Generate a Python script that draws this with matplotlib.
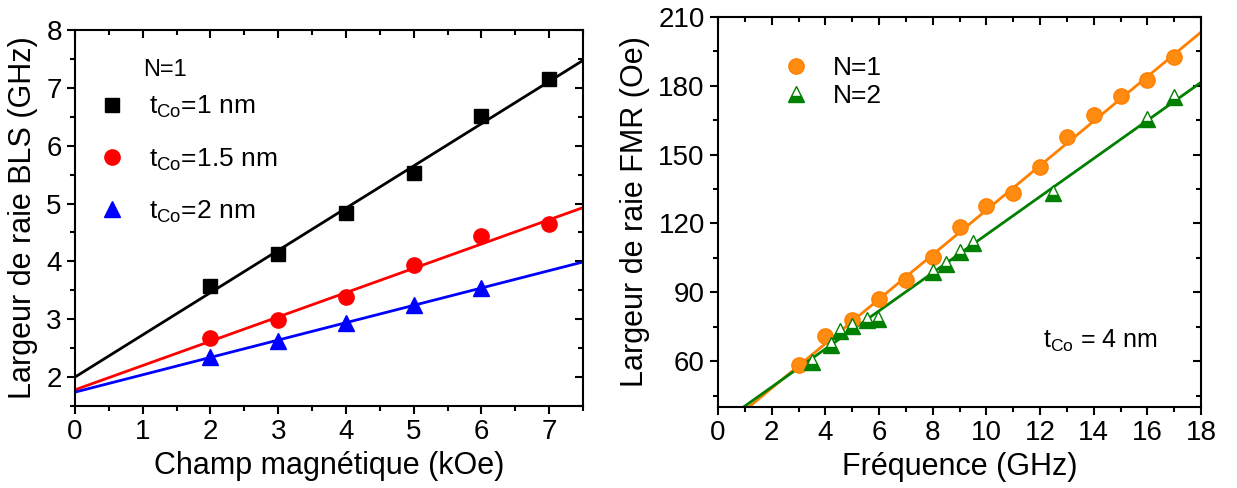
import matplotlib.pyplot as plt
import numpy as np

plt.rcParams['font.family'] = ['Liberation Sans', 'DejaVu Sans']
plt.rcParams['mathtext.fontset'] = 'custom'
plt.rcParams['mathtext.rm'] = 'Liberation Sans'

# left panel: BLS linewidth vs field, N=1
field = [2, 3, 4, 5, 6, 7]
bls_1nm = [3.58, 4.13, 4.84, 5.52, 6.52, 7.15]
bls_15nm = [2.67, 2.98, 3.39, 3.93, 4.44, 4.64]
field_2nm = [2, 3, 4, 5, 6]
bls_2nm = [2.35, 2.63, 2.93, 3.24, 3.54]
# linear fits (intercept, slope)
fit_1nm = (2.0, 0.73)
fit_15nm = (1.78, 0.42)
fit_2nm = (1.74, 0.30)

# right panel: FMR linewidth vs frequency, tCo = 4 nm
freq_n1 = [3, 4, 5, 6, 7, 8, 9, 10, 11, 12, 13, 14, 15, 16, 17]
fmr_n1 = [58.5, 70.8, 78, 87, 95.5, 105.5, 118.5, 127.5, 133.5, 144.5, 157.5, 167.5, 175.5, 182.5, 192.5]
freq_n2 = [3.5, 4.2, 4.55, 5.0, 5.55, 5.95, 8.0, 8.5, 9.0, 9.5, 12.5, 16, 17]
fmr_n2 = [59.5, 67, 73, 75.5, 78, 78.5, 99, 102.5, 107.5, 111.5, 133.5, 165.5, 175]
fit_n1 = (28.8, 9.7)
fit_n2 = (32.1, 8.3)

fig = plt.figure(figsize=(12.37, 4.88), dpi=100)
ax1 = fig.add_axes([75 / 1237, 82 / 488, 508 / 1237, 376 / 488])
ax2 = fig.add_axes([718 / 1237, 81 / 488, 483 / 1237, 390 / 488])


def style(ax):
    for s in ax.spines.values():
        s.set_linewidth(1.5)
    ax.tick_params(which='both', labelsize=20, width=1.5, direction='out',
                   top=True, right=True)
    ax.tick_params(which='major', length=6)
    ax.tick_params(which='minor', length=3.5)


style(ax1)
style(ax2)

xs = np.array([0, 7.5])
ax1.plot(xs, fit_1nm[0] + fit_1nm[1] * xs, color='black', lw=2)
ax1.plot(xs, fit_15nm[0] + fit_15nm[1] * xs, color='red', lw=2)
ax1.plot(xs, fit_2nm[0] + fit_2nm[1] * xs, color='blue', lw=2)
h1, = ax1.plot(field, bls_1nm, 's', color='black', ms=10, label=r't$_\mathregular{Co}$=1 nm')
h2, = ax1.plot(field, bls_15nm, 'o', color='red', ms=11, label=r't$_\mathregular{Co}$=1.5 nm')
h3, = ax1.plot(field_2nm, bls_2nm, '^', color='blue', ms=11, label=r't$_\mathregular{Co}$=2 nm')
ax1.set_xlim(0, 7.5)
ax1.set_ylim(1.5, 8)
ax1.set_xticks(range(0, 8))
ax1.set_xticks(np.arange(0.5, 7.6, 1), minor=True)
ax1.set_yticks(range(2, 9))
ax1.set_yticks(np.arange(1.5, 8, 1), minor=True)
ax1.set_xlabel('Champ magnétique (kOe)', fontsize=22, labelpad=4)
ax1.set_ylabel('Largeur de raie BLS (GHz)', fontsize=22, labelpad=6)
ax1.text(0.177, 0.894, 'N=1', transform=ax1.transAxes, fontsize=17,
         ha='center', va='center')
ax1.legend(handles=[h1, h2, h3], loc='upper left', frameon=False,
           fontsize=19, labelspacing=0.98, handletextpad=0.4,
           bbox_to_anchor=(-0.025, 0.893))

xf = np.array([0, 18])
ax2.plot(xf, fit_n1[0] + fit_n1[1] * xf, color='#ff7f00', lw=2)
ax2.plot(xf, fit_n2[0] + fit_n2[1] * xf, color='#008000', lw=2)
g1, = ax2.plot(freq_n1, fmr_n1, 'o', color='#ff8c10', mec='#ff7f00', ms=11, label='N=1')
g2, = ax2.plot(freq_n2, fmr_n2, '^', color='#008000', mfc='#008000', mfcalt='white',
               fillstyle='bottom', ms=11, label='N=2')
ax2.set_xlim(0, 18)
ax2.set_ylim(40, 210)
ax2.set_xticks(range(0, 19, 2))
ax2.set_xticks(range(1, 18, 2), minor=True)
ax2.set_yticks(range(60, 211, 30))
ax2.set_yticks(range(45, 211, 30), minor=True)
ax2.set_xlabel('Fréquence (GHz)', fontsize=22, labelpad=4)
ax2.set_ylabel('Largeur de raie FMR (Oe)', fontsize=22, labelpad=6)
ax2.legend(handles=[g1, g2], loc='upper left', frameon=False, fontsize=19,
           labelspacing=0.15, handletextpad=0.4, bbox_to_anchor=(0.057, 0.96))
ax2.text(0.91, 0.17, r't$_\mathregular{Co}$ = 4 nm', transform=ax2.transAxes,
         fontsize=18, ha='right', va='center')

# top/right ticks point inward, bottom/left outward
for ax in (ax1, ax2):
    for t in ax.xaxis.get_ticklines(minor=False)[1::2] + ax.xaxis.get_ticklines(minor=True)[1::2]:
        t.set_marker(3)
    for t in ax.yaxis.get_ticklines(minor=False)[1::2] + ax.yaxis.get_ticklines(minor=True)[1::2]:
        t.set_marker(0)

fig.savefig('out.png', dpi=100)
